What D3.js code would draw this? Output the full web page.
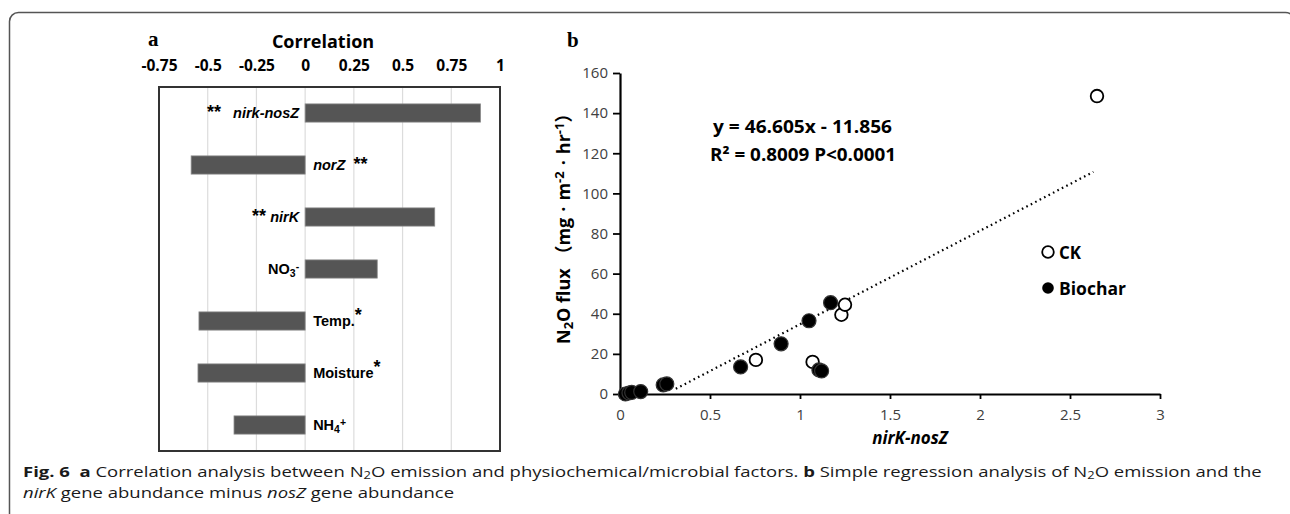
<!DOCTYPE html>
<html><head><meta charset="utf-8">
<script src="https://cdn.jsdelivr.net/npm/d3@7"></script>
<style>
body{margin:0;background:#fff;}
svg{display:block;}
</style></head>
<body>
<svg id="chart" width="1290" height="514"></svg>
<script>
// ---------- Data ----------
// Panel a: correlation of N2O emission with factors
const corrFactors = ["nirk-nosZ", "norZ", "nirK", "NO_3^-", "Temp.", "Moisture", "NH_4^+"];
const corrValues  = [0.90, -0.585, 0.665, 0.37, -0.545, -0.55, -0.365];
const corrSig     = ["**", "**", "**", "", "^*", "^*", ""];
const corrItalic  = [true, true, true, false, false, false, false];
const corrTicks   = [-0.75, -0.5, -0.25, 0, 0.25, 0.5, 0.75, 1];

// Panel b: regression of N2O flux on nirK-nosZ
const ckX      = [2.65, 0.755, 1.07, 1.23, 1.25];
const ckY      = [148.5, 17, 16, 39.5, 44.5];
const biocharX = [0.03, 0.05, 0.065, 0.115, 0.24, 0.26, 0.67, 0.895, 1.05, 1.17, 1.105, 1.12];
const biocharY = [0, 0.5, 0.8, 1.2, 4.5, 5, 13.5, 25, 36.5, 45.5, 12, 11.5];
const trendSlope = 46.605, trendIntercept = -11.856;
const trendXRange = [0.31, 2.63];
const xTicksB = [0, 0.5, 1, 1.5, 2, 2.5, 3];
const yTicksB = [0, 20, 40, 60, 80, 100, 120, 140, 160];

const svg = d3.select("#chart");

// outer frame
svg.append("rect").attr("x", 9.5).attr("y", 12.5).attr("width", 1285).attr("height", 600)
  .attr("rx", 9).attr("fill", "none").attr("stroke", "#555").attr("stroke-width", 1.5);

// markup helper: _x subscript, ^x superscript
function addMarkup(sel, str, opts) {
  opts = opts || {};
  const re = /([_^])(.)|([^_^]+)/g;
  let m;
  while ((m = re.exec(str)) !== null) {
    const t = sel.append("tspan");
    if (opts.italic) t.attr("font-style", "italic");
    if (m[3] !== undefined) { t.text(m[3]); if (opts.size) t.attr("font-size", opts.size); }
    else if (m[2] === "*") {
      t.text(m[2]).attr("font-size", opts.size || "1.3em").attr("baseline-shift", "30%");
    } else {
      t.text(m[2]).attr("font-size", "0.72em")
       .attr("baseline-shift", m[1] === "_" ? "-25%" : "45%");
    }
  }
}

// ---------- Panel a ----------
const xa = d3.scaleLinear().domain([-0.75, 1]).range([159, 500]);
const ya = d3.scaleBand().domain(corrFactors).range([87, 451]).paddingInner(0.65).paddingOuter(0.325);
const ga = svg.append("g");

ga.append("text").attr("x", 148).attr("y", 46).text("a")
  .attr("font-family", "Liberation Serif, serif").attr("font-weight", "bold").attr("font-size", 21);
ga.append("text").attr("x", 323).attr("y", 48).attr("text-anchor", "middle").text("Correlation")
  .attr("font-family", "Open Sans, sans-serif").attr("font-weight", "bold").attr("font-size", 18);

const axA = ga.append("g").attr("transform", "translate(0,71)")
  .call(d3.axisTop(xa).tickValues(corrTicks).tickSize(0).tickPadding(0).tickFormat(d => String(d)));
axA.select(".domain").remove();
axA.selectAll("text").attr("font-family", "Open Sans, sans-serif").attr("font-weight", "bold")
  .attr("font-size", 15.5).attr("fill", "#000");

// gridlines
ga.selectAll("line.grid").data(corrTicks.slice(1, -1)).enter().append("line")
  .attr("x1", d => xa(d)).attr("x2", d => xa(d)).attr("y1", 87).attr("y2", 451)
  .attr("stroke", "#dcdcdc").attr("stroke-width", 1.2);

// bars
ga.selectAll("rect.bar").data(corrValues).enter().append("rect")
  .attr("x", d => Math.min(xa(0), xa(d))).attr("width", d => Math.abs(xa(d) - xa(0)))
  .attr("y", (d, i) => ya(corrFactors[i])).attr("height", ya.bandwidth())
  .attr("fill", "#555").attr("stroke", "#8a8a8a").attr("stroke-width", 0.8);

// box
ga.append("rect").attr("x", 159).attr("y", 87).attr("width", 341).attr("height", 364)
  .attr("fill", "none").attr("stroke", "#333").attr("stroke-width", 2);

// labels
const starSize = 18;
corrValues.forEach((v, i) => {
  const cy = ya(corrFactors[i]) + ya.bandwidth() / 2 + 5;
  const t = ga.append("text").attr("y", cy)
    .attr("font-family", "Liberation Sans, Arial, sans-serif").attr("font-weight", "bold").attr("font-size", 14.5);
  if (v >= 0) {
    t.attr("x", xa(0) - 6).attr("text-anchor", "end");
    if (corrSig[i]) { addMarkup(t, corrSig[i], { size: starSize }); t.append("tspan").text(i === 0 ? "\u00a0\u00a0\u00a0" : "\u00a0"); }
    addMarkup(t, corrFactors[i], { italic: corrItalic[i] });
  } else {
    t.attr("x", xa(0) + 8).attr("text-anchor", "start");
    addMarkup(t, corrFactors[i], { italic: corrItalic[i] });
    if (corrSig[i]) {
      if (corrSig[i][0] !== "^") t.append("tspan").text("\u00a0\u00a0");
      addMarkup(t, corrSig[i], { size: starSize });
    }
  }
});

// ---------- Panel b ----------
const xb = d3.scaleLinear().domain([0, 3]).range([620, 1160]);
const yb = d3.scaleLinear().domain([0, 160]).range([394, 73]);
const gb = svg.append("g");

gb.append("text").attr("x", 567).attr("y", 47).text("b")
  .attr("font-family", "Liberation Serif, serif").attr("font-weight", "bold").attr("font-size", 21);

const axX = gb.append("g").attr("transform", "translate(0,394)")
  .call(d3.axisBottom(xb).tickValues(xTicksB).tickSize(5).tickSizeOuter(0).tickPadding(10).tickFormat(d => String(d)));
const axY = gb.append("g").attr("transform", "translate(620,0)")
  .call(d3.axisLeft(yb).tickValues(yTicksB).tickSize(7).tickSizeOuter(0).tickPadding(5).tickFormat(d => String(d)));
[axX, axY].forEach(a => {
  a.select(".domain").attr("stroke", "#000").attr("stroke-width", 2.2);
  a.selectAll(".tick line").attr("stroke", "#000").attr("stroke-width", 1.8);
  a.selectAll("text").attr("font-family", "Open Sans, sans-serif").attr("font-size", 15).attr("fill", "#404040");
});

// axis titles
gb.append("text").attr("x", 910).attr("y", 444).attr("text-anchor", "middle").text("nirK-nosZ")
  .attr("font-family", "Open Sans, sans-serif").attr("font-weight", "bold").attr("font-style", "italic").attr("font-size", 17);
const yl = gb.append("text").attr("transform", "translate(570,344) rotate(-90)").attr("text-anchor", "start")
  .attr("font-family", "Open Sans, 'Noto Sans CJK SC', sans-serif").attr("font-weight", "bold").attr("font-size", 18);
addMarkup(yl, "N_2O flux ");
yl.append("tspan").text("\uff08").attr("font-family", "Noto Sans CJK SC");
yl.append("tspan").text("mg");
yl.append("tspan").text("\u00b7").attr("dx", 6);
yl.append("tspan").text("m").attr("dx", 6);
yl.append("tspan").text("-2").attr("font-size", "0.72em").attr("baseline-shift", "45%");
yl.append("tspan").text("\u00b7").attr("dx", 6);
yl.append("tspan").text("hr").attr("dx", 6);
yl.append("tspan").text("-1").attr("font-size", "0.72em").attr("baseline-shift", "45%");
yl.append("tspan").text("\uff09").attr("font-family", "Noto Sans CJK SC");

// trend line
const trendPts = trendXRange.map(x => [x, trendSlope * x + trendIntercept]);
gb.append("path").attr("d", d3.line().x(d => xb(d[0])).y(d => yb(d[1]))(trendPts))
  .attr("fill", "none").attr("stroke", "#000").attr("stroke-width", 2.2)
  .attr("stroke-dasharray", "1.6,3.4");

// equation
const eq1 = gb.append("text").attr("x", 713).attr("y", 133).text("y = 46.605x - 11.856").attr("textLength", 179);
const eq2 = gb.append("text").attr("x", 710).attr("y", 161).text("R\u00b2 = 0.8009 P<0.0001").attr("textLength", 186);
[eq1, eq2].forEach(t => t.attr("font-family", "Open Sans, sans-serif").attr("font-weight", "bold")
  .attr("font-size", 18).attr("lengthAdjust", "spacingAndGlyphs"));

// points
gb.selectAll("circle.ck").data(ckX).enter().append("circle")
  .attr("cx", d => xb(d)).attr("cy", (d, i) => yb(ckY[i])).attr("r", 6.3)
  .attr("fill", "#fff").attr("stroke", "#000").attr("stroke-width", 1.8);
gb.selectAll("circle.bc").data(biocharX).enter().append("circle")
  .attr("cx", d => xb(d)).attr("cy", (d, i) => yb(biocharY[i])).attr("r", 7)
  .attr("fill", "#000").attr("stroke", "#333").attr("stroke-width", 1.2);

// legend
gb.append("circle").attr("cx", 1048).attr("cy", 252).attr("r", 5.8).attr("fill", "#fff").attr("stroke", "#000").attr("stroke-width", 1.8);
gb.append("circle").attr("cx", 1048).attr("cy", 288).attr("r", 5.8).attr("fill", "#000");
[["CK", 258.5, 22], ["Biochar", 294.5, 67]].forEach(([s, y, w]) => {
  gb.append("text").attr("x", 1059).attr("y", y).text(s).attr("textLength", w).attr("lengthAdjust", "spacingAndGlyphs")
    .attr("font-family", "Open Sans, sans-serif").attr("font-weight", "bold").attr("font-size", 18);
});

// ---------- Caption ----------
const cap1 = [["Fig. 6", "b"], ["\u00a0\u00a0", ""], ["a", "b"], [" Correlation analysis between N", ""], ["2", "sub"],
  ["O emission and physiochemical/microbial factors. ", ""], ["b", "b"], [" Simple regression analysis of N", ""], ["2", "sub"],
  ["O emission and the", ""]];
const cap2 = [["nirK", "i"], [" gene abundance minus ", ""], ["nosZ", "i"], [" gene abundance", ""]];
function captionLine(parts, y) {
  const g = svg.append("g");
  const t = g.append("text").attr("x", 0).attr("y", 0)
    .attr("font-family", "Open Sans, sans-serif").attr("font-size", 15).attr("fill", "#1a1a1a");
  parts.forEach(([s, st]) => {
    const sp = t.append("tspan").text(s);
    if (st === "b") sp.attr("font-weight", "bold");
    if (st === "i") sp.attr("font-style", "italic");
    if (st === "sub") sp.attr("font-size", "0.7em").attr("baseline-shift", "-20%");
  });
  return { g, w: t.node().getComputedTextLength(), y };
}
const c1 = captionLine(cap1, 477), c2 = captionLine(cap2, 498);
const capScale = 1240 / c1.w;
[c1, c2].forEach(c => c.g.attr("transform", `translate(23,${c.y}) scale(${capScale},1)`));
</script>
</body></html>
